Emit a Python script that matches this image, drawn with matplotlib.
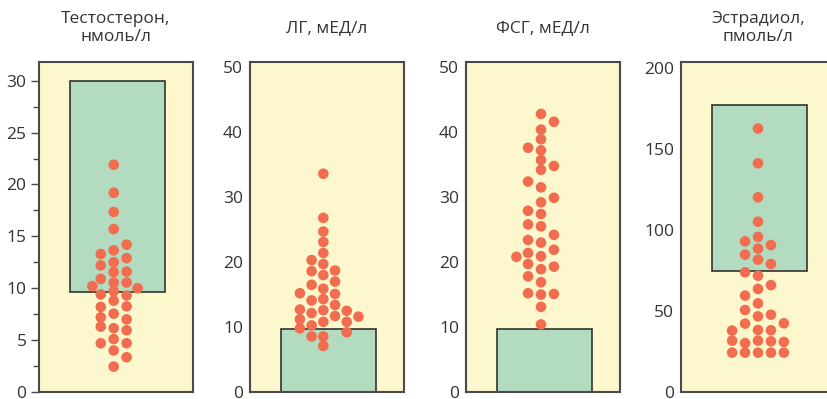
import numpy as np
import matplotlib
matplotlib.use("Agg")
import matplotlib.pyplot as plt
from matplotlib.patches import Rectangle

plt.rcParams['font.family'] = ['Open Sans', 'DejaVu Sans']

# titles of the four panels
titles = ["Тестостерон,\nнмоль/л", "ЛГ, мЕД/л", "ФСГ, мЕД/л", "Эстрадиол,\nпмоль/л"]

# reference range (low, high) shown as the green box
ref_ranges = [(9.6, 30.0), (0.0, 9.7), (0.0, 9.7), (74.5, 177.0)]

# y-axis limits and ticks
y_tops = [31.8, 50.8, 50.8, 203.7]
y_ticks = [[0, 5, 10, 15, 20, 25, 30],
           [0, 10, 20, 30, 40, 50],
           [0, 10, 20, 30, 40, 50],
           [0, 50, 100, 150, 200]]

# patient values, grouped by the swarm column they sit in (column offset -> values)
testo = {
    -1.65: [10.2],
    -1: [13.3, 12.2, 10.9, 9.4, 8.2, 7.2, 6.3, 4.7],
    0: [21.9, 19.2, 17.35, 15.7, 13.65, 12.5, 11.55, 10.55, 9.7, 8.8, 7.55, 6.15, 5.1, 4.0, 2.45],
    1: [14.2, 12.9, 11.6, 10.55, 9.3, 8.25, 7.0, 5.95, 4.7, 3.35],
    1.85: [10.0],
}
lh = {
    -2: [15.2, 12.7, 11.2, 9.8],
    -1: [20.3, 18.6, 16.5, 14.1, 12.15, 10.25, 8.55],
    0: [33.6, 26.8, 24.7, 23.1, 21.4, 19.7, 18.0, 15.9, 14.3, 12.6, 10.8, 8.55, 7.1],
    1: [18.7, 17.0, 15.1, 13.4, 11.7],
    2: [12.5, 10.8, 9.2],
    3: [11.6],
}
fsh = {
    -1.9: [20.8],
    -1: [37.6, 32.4, 27.9, 25.8, 23.4, 21.4, 19.7, 17.8, 15.2],
    0: [42.8, 40.4, 38.9, 37.2, 35.7, 34.2, 31.5, 29.2, 27.4, 25.5, 23.0, 20.9, 18.9,
        16.9, 15.0, 13.1, 10.4],
    1: [41.6, 34.8, 29.9, 24.2, 21.9, 19.3, 15.1],
}
estr = {
    -2: [37.9, 31.7, 24.3],
    -1: [93.0, 84.8, 73.9, 59.5, 50.6, 42.2, 30.2, 24.3],
    0: [162.6, 141.2, 120.2, 105.1, 95.7, 88.5, 81.7, 71.8, 63.6, 54.7, 46.7, 38.3, 31.7, 24.3],
    1: [90.7, 79.0, 66.0, 47.7, 38.1, 31.3, 24.3],
    2: [42.4, 30.9, 24.3],
}
panels = [testo, lh, fsh, estr]

# layout (pixels of the 827x399 picture)
W, H = 827, 399
lefts = [39, 250, 466, 681]
ax_w, ax_top, ax_bot = 154, 62, 392
centers = [0.485, 0.476, 0.487, 0.5]
steps = [0.084, 0.076, 0.084, 0.084]

bg = "#fdf7cd"
box_col = "#b2dbbf"
dot_col = "#f26c4f"
spine_col = "#4a4a4a"
txt_col = "#333333"

fig = plt.figure(figsize=(W / 100, H / 100), dpi=100)

for i in range(4):
    ax = fig.add_axes([lefts[i] / W, (H - ax_bot) / H, ax_w / W, (ax_bot - ax_top) / H])
    ax.set_facecolor(bg)
    ax.set_xlim(0, 1)
    ax.set_ylim(0, y_tops[i])
    lo, hi = ref_ranges[i]
    ax.add_patch(Rectangle((0.2, lo), 0.62, hi - lo, facecolor=box_col,
                           edgecolor="#333333", linewidth=1.2, zorder=2))
    for col, vals in panels[i].items():
        xs = np.full(len(vals), centers[i] + col * steps[i])
        ax.scatter(xs, vals, s=58, color=dot_col, edgecolors="none", zorder=3)
    ax.set_xticks([])
    ax.set_yticks(y_ticks[i])
    if i == 0:
        ax.set_yticks(np.arange(2.5, 30, 5), minor=True)
        ax.tick_params(axis='y', which='major', length=6, width=1, color=spine_col, pad=3)
        ax.tick_params(axis='y', which='minor', length=4, width=1, color=spine_col)
    else:
        ax.tick_params(axis='y', which='major', length=0, pad=5)
    ax.tick_params(axis='y', labelsize=12.5, labelcolor=txt_col)
    for s in ax.spines.values():
        s.set_color(spine_col)
        s.set_linewidth(1.5)
    fig.text((lefts[i] + ax_w / 2) / W, 1 - 28 / H, titles[i], ha='center', va='center',
             fontsize=12.5, color=txt_col, linespacing=1.15)

fig.savefig("out.png", dpi=100)
